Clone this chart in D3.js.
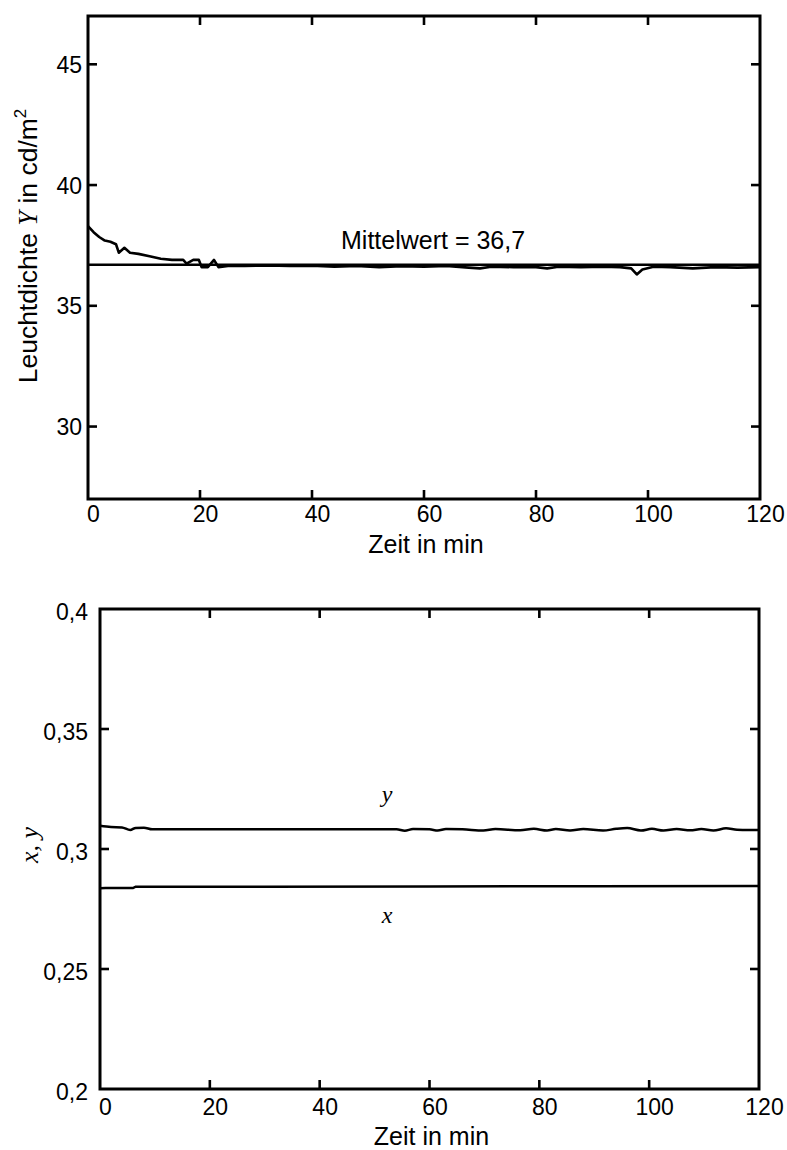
<!DOCTYPE html>
<html>
<head>
<meta charset="utf-8">
<script src="https://cdn.jsdelivr.net/npm/d3@7"></script>
<style>
  body { margin: 0; background: #fff; }
  svg { display: block; }
</style>
</head>
<body>
<svg id="chart"></svg>
<script>
// time axis ticks (both panels)
const timeTicks = [0, 20, 40, 60, 80, 100, 120];

// upper panel: luminance over time
const lumTicks = [30, 35, 40, 45];
const lumMean = 36.7;
const lumTime = [0, 1, 2, 3, 4, 5, 5.5, 6.5, 7.5, 9, 11, 13, 15, 17, 17.6, 18.8, 19.8, 20.3, 21.4, 22.5, 23.3, 25,
  28, 32, 36, 40, 44, 48, 52, 56, 60, 64, 68, 70, 72, 76, 80, 82, 84, 88, 92, 95, 97, 98, 99, 101, 104, 108, 112, 116, 120];
const lumValues = [38.3, 38.05, 37.85, 37.7, 37.65, 37.55, 37.2, 37.4, 37.2, 37.15, 37.05, 36.95, 36.9, 36.9, 36.75, 36.9,
  36.9, 36.6, 36.6, 36.9, 36.6, 36.65, 36.65, 36.67, 36.65, 36.66, 36.62, 36.65, 36.6, 36.64, 36.62, 36.65, 36.58, 36.55,
  36.62, 36.6, 36.6, 36.55, 36.62, 36.6, 36.62, 36.6, 36.55, 36.3, 36.5, 36.62, 36.6, 36.55, 36.6, 36.58, 36.6];

// lower panel: chromaticity x, y over time
const chromTicks = [0.2, 0.25, 0.3, 0.35, 0.4];
const cyTime = [0, 2, 4, 5.5, 6.5, 8, 9.5, 12, 20, 30, 40, 50, 54, 55.5, 57, 60, 61.5, 63, 66, 69.8, 72, 76.5, 79, 81.4, 83,
  85.6, 88, 91.6, 94, 96, 98.5, 100.5, 102.6, 105, 107.5, 109.5, 111.7, 114, 116, 118, 120];
const cyValues = [0.3097, 0.3092, 0.309, 0.3079, 0.3088, 0.3089, 0.3082, 0.3082, 0.3082, 0.3082, 0.3082, 0.3082, 0.3082,
  0.3076, 0.3083, 0.3082, 0.3077, 0.3083, 0.3082, 0.3077, 0.3083, 0.3078, 0.3084, 0.3077, 0.3083, 0.3077, 0.3083, 0.3077,
  0.3084, 0.3087, 0.3077, 0.3084, 0.3077, 0.3083, 0.3078, 0.3083, 0.3077, 0.3086, 0.308, 0.3079, 0.3079];
const cxTime = [0, 1, 6, 6.5, 30, 60, 90, 120];
const cxValues = [0.2836, 0.2837, 0.2837, 0.2843, 0.2843, 0.2844, 0.2845, 0.2846];

const width = 787;
const height = 1150;
const sans = "'Liberation Sans', Arial, sans-serif";
const serif = "'Liberation Serif', 'Times New Roman', serif";

const svg = d3.select("#chart").attr("width", width).attr("height", height);

const fmt = (d) => String(d).replace(".", ",");

// one framed panel with inward ticks on all four sides
function panel(box, yDomain, yTicks, opts) {
  const x = d3.scaleLinear().domain([0, 120]).range([box.left, box.right]);
  const y = d3.scaleLinear().domain(yDomain).range([box.bottom, box.top]);
  const g = svg.append("g");
  const inner = timeTicks.filter((d) => d > 0 && d < 120);
  const innerY = yTicks.filter((d) => d > yDomain[0] && d < yDomain[1]);

  // bottom axis (labels)
  const bx = g.append("g")
    .attr("transform", `translate(0,${box.bottom})`)
    .call(d3.axisBottom(x).tickValues(timeTicks).tickSize(0).tickPadding(0).tickFormat(fmt));
  bx.select(".domain").remove();
  bx.selectAll("text")
    .attr("y", opts.xLabelY - box.bottom).attr("dy", 0).attr("dx", 5)
    .attr("font-size", 23).attr("font-family", sans).attr("fill", "#000");

  // left axis (labels)
  const ly = g.append("g")
    .attr("transform", `translate(${box.left},0)`)
    .call(d3.axisLeft(y).tickValues(yTicks).tickSize(0).tickPadding(opts.yPad).tickFormat(fmt));
  ly.select(".domain").remove();
  ly.selectAll("text")
    .attr("dy", opts.yDy)
    .attr("font-size", 23).attr("font-family", sans).attr("fill", "#000");

  // inward tick marks
  const tl = 9;
  const ticks = g.append("g").attr("stroke", "#000").attr("stroke-width", 2.6);
  ticks.selectAll(".tb").data(inner).join("line")
    .attr("x1", (d) => x(d)).attr("x2", (d) => x(d))
    .attr("y1", box.bottom).attr("y2", box.bottom - tl);
  ticks.selectAll(".tt").data(inner).join("line")
    .attr("x1", (d) => x(d)).attr("x2", (d) => x(d))
    .attr("y1", box.top).attr("y2", box.top + tl);
  ticks.selectAll(".tl").data(innerY).join("line")
    .attr("x1", box.left).attr("x2", box.left + tl)
    .attr("y1", (d) => y(d)).attr("y2", (d) => y(d));
  ticks.selectAll(".tr").data(innerY).join("line")
    .attr("x1", box.right).attr("x2", box.right - tl)
    .attr("y1", (d) => y(d)).attr("y2", (d) => y(d));

  // frame
  g.append("rect")
    .attr("x", box.left).attr("y", box.top)
    .attr("width", box.right - box.left).attr("height", box.bottom - box.top)
    .attr("fill", "none").attr("stroke", "#000").attr("stroke-width", 3);

  // x title
  g.append("text")
    .attr("x", (box.left + box.right) / 2 + 2).attr("y", opts.titleY)
    .attr("text-anchor", "middle").attr("font-family", sans).attr("font-size", 25)
    .text("Zeit in min");

  return { x, y, g };
}

// ---- upper panel
const upper = panel({ left: 88, right: 760, top: 16, bottom: 499 }, [27, 47], lumTicks,
  { xLabelY: 522, yPad: 6, yDy: "0.35em", titleY: 553 });

const lumLine = d3.line()
  .x((d, i) => upper.x(lumTime[i]))
  .y((d) => upper.y(d));

upper.g.append("line")
  .attr("x1", upper.x(0)).attr("x2", upper.x(120))
  .attr("y1", upper.y(lumMean)).attr("y2", upper.y(lumMean))
  .attr("stroke", "#000").attr("stroke-width", 2.6);

upper.g.append("path")
  .datum(lumValues)
  .attr("d", lumLine)
  .attr("fill", "none").attr("stroke", "#000").attr("stroke-width", 2.6)
  .attr("stroke-linejoin", "round");

upper.g.append("text")
  .attr("x", 341).attr("y", 249)
  .attr("font-family", sans).attr("font-size", 25)
  .text("Mittelwert = 36,7");

const yTitle = upper.g.append("text")
  .attr("transform", "translate(37,246) rotate(-90)")
  .attr("text-anchor", "middle").attr("font-family", sans).attr("font-size", 26.5);
yTitle.append("tspan").text("Leuchtdichte ");
yTitle.append("tspan").attr("font-family", serif).attr("font-style", "italic").text("Y");
yTitle.append("tspan").text(" in cd/m");
yTitle.append("tspan").attr("font-size", 17).attr("dy", -11).text("2");

// ---- lower panel
const lower = panel({ left: 100, right: 759, top: 609, bottom: 1089 }, [0.2, 0.4], chromTicks,
  { xLabelY: 1115, yPad: 12, yDy: "0.45em", titleY: 1145 });

const cyLine = d3.line()
  .x((d, i) => lower.x(cyTime[i]))
  .y((d) => lower.y(d))
  .curve(d3.curveMonotoneX);
const cxLine = d3.line()
  .x((d, i) => lower.x(cxTime[i]))
  .y((d) => lower.y(d));

lower.g.append("path")
  .datum(cyValues)
  .attr("d", cyLine)
  .attr("fill", "none").attr("stroke", "#000").attr("stroke-width", 2.5);
lower.g.append("path")
  .datum(cxValues)
  .attr("d", cxLine)
  .attr("fill", "none").attr("stroke", "#000").attr("stroke-width", 2.5);

lower.g.append("text")
  .attr("x", 387).attr("y", 802).attr("text-anchor", "middle")
  .attr("font-family", serif).attr("font-style", "italic").attr("font-size", 24)
  .text("y");
lower.g.append("text")
  .attr("x", 387).attr("y", 923).attr("text-anchor", "middle")
  .attr("font-family", serif).attr("font-style", "italic").attr("font-size", 24)
  .text("x");

lower.g.append("text")
  .attr("transform", "translate(38,845) rotate(-90)")
  .attr("text-anchor", "middle")
  .attr("font-family", serif).attr("font-style", "italic").attr("font-size", 26)
  .text("x, y");
</script>
</body>
</html>
